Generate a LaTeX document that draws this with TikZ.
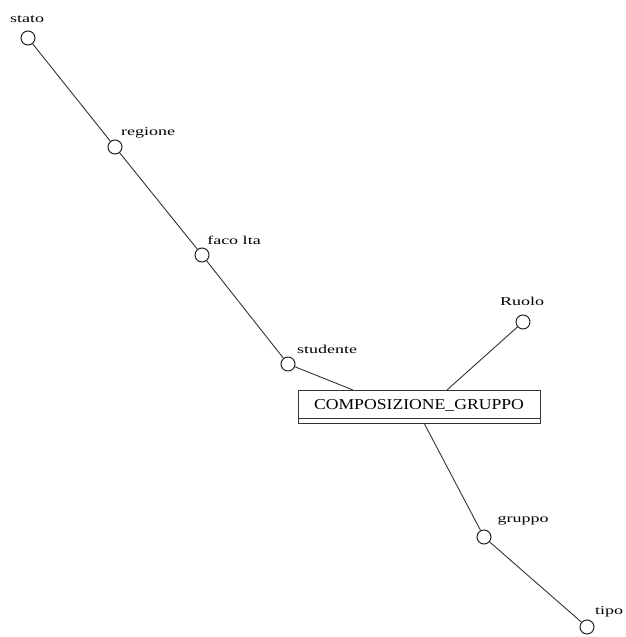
\documentclass[tikz,border=0pt]{standalone}
\usepackage{fontspec}
\setmainfont{Liberation Serif}
\usepackage{graphicx}
\begin{document}
\begin{tikzpicture}[x=1pt,y=-1pt,
  attr/.style={circle,draw=black!85,fill=white,line width=1pt,minimum size=14pt,inner sep=0pt},
  lbl/.style={inner sep=0pt,font=\fontsize{12}{12}\selectfont},
  conn/.style={draw=black!80,line width=0.9pt}]
\useasboundingbox (0,0) rectangle (626,637);
% entity box
\draw[black!80,line width=1pt] (298,390) rectangle (540,423);
\draw[black!80,line width=1pt] (298,418) -- (540,418);
\node[inner sep=0pt] (ent) at (419,405) {\resizebox{210pt}{10pt}{COMPOSIZIONE\_GRUPPO}};
\coordinate (e1) at (353,390);
\coordinate (e2) at (447,390);
\coordinate (e3) at (424,423);
% attribute circles
\node[attr] (stato) at (28,38) {};
\node[attr] (regione) at (115,147) {};
\node[attr] (facolta) at (202,255) {};
\node[attr] (studente) at (288,364) {};
\node[attr] (ruolo) at (523,322) {};
\node[attr] (gruppo) at (484,537) {};
\node[attr] (tipo) at (587,627) {};
% labels
\node[lbl] (lstato) at (27,19) {\scalebox{1.5}[1]{stato}};
\node[lbl] (lregione) at (148,133) {\scalebox{1.5}[1]{regione}};
\node[lbl] (lfacolta) at (234,240) {\scalebox{1.5}[1]{faco lta}};
\node[lbl] (lstudente) at (327,349) {\scalebox{1.5}[1]{studente}};
\node[lbl] (lruolo) at (522,301) {\scalebox{1.5}[1]{Ruolo}};
\node[lbl] (lgruppo) at (523,521) {\scalebox{1.5}[1]{gruppo}};
\node[lbl] (ltipo) at (609,612) {\scalebox{1.5}[1]{tipo}};
% connectors
\draw[conn] (stato) -- (regione);
\draw[conn] (regione) -- (facolta);
\draw[conn] (facolta) -- (studente);
\draw[conn] (studente) -- (e1);
\draw[conn] (ruolo) -- (e2);
\draw[conn] (e3) -- (gruppo);
\draw[conn] (gruppo) -- (tipo);
\end{tikzpicture}
\end{document}
